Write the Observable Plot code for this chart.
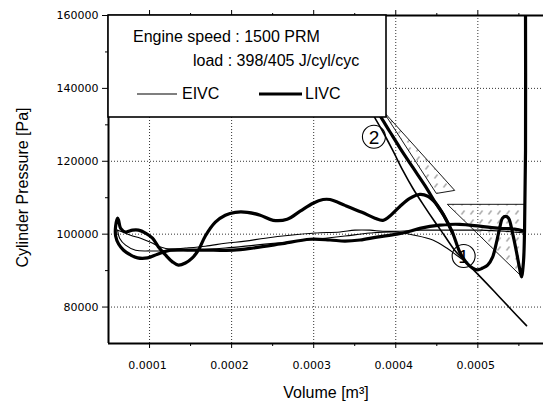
<!DOCTYPE html>
<html>
<head>
<meta charset="utf-8">
<script src="https://cdn.jsdelivr.net/npm/d3@7"></script>
<script src="https://cdn.jsdelivr.net/npm/@observablehq/plot@0.6"></script>
<style>
html,body{margin:0;padding:0;background:#fff;}
#chart{width:543px;height:401px;overflow:hidden;}
</style>
</head>
<body>
<div id="chart"></div>
<script>
// ---- axes / ticks ----
const xDomain = [0.00005, 0.00058];
const yDomain = [70000, 160000];
const xTicks = [0.0001, 0.0002, 0.0003, 0.0004, 0.0005];
const xTickLabels = ["0.0001", "0.0002", "0.0003", "0.0004", "0.0005"];
const xMinorTicks = [0.00015, 0.00025, 0.00035, 0.00045, 0.00055];
const yTicks = [80000, 100000, 120000, 140000, 160000];
const yTickLabels = ["80000", "100000", "120000", "140000", "160000"];
const yMinorTicks = [90000, 110000, 130000, 150000];
const yGrid = [80000, 100000, 120000, 140000];
const xLabel = "Volume [m³]";
const yLabel = "Cylinder Pressure [Pa]";
const legendText = ["Engine speed : 1500 PRM", "load : 398/405 J/cyl/cyc"];
const seriesNames = ["EIVC", "LIVC"];

// ---- LIVC (thick): blowdown, exhaust and intake strokes ----
const livcMainV = [5.58e-4, 5.581e-4, 5.569e-4, 5.556e-4, 5.532e-4, 5.508e-4, 5.471e-4, 5.423e-4, 5.374e-4, 5.338e-4,
  5.301e-4, 5.265e-4, 5.228e-4, 5.180e-4, 5.119e-4, 5.058e-4, 4.998e-4, 4.937e-4, 4.864e-4, 4.779e-4,
  4.694e-4, 4.584e-4, 4.487e-4, 4.390e-4, 4.293e-4, 4.171e-4, 4.050e-4, 3.940e-4, 3.843e-4, 3.746e-4,
  3.588e-4, 3.381e-4, 3.199e-4, 3.114e-4, 2.993e-4, 2.835e-4, 2.677e-4, 2.507e-4, 2.349e-4, 2.191e-4,
  2.045e-4, 1.923e-4, 1.802e-4, 1.680e-4, 1.595e-4, 1.522e-4, 1.437e-4, 1.352e-4, 1.279e-4, 1.194e-4,
  1.109e-4, 1.036e-4, 0.951e-4, 0.866e-4, 0.793e-4, 0.708e-4, 0.648e-4, 0.623e-4, 0.611e-4, 0.587e-4,
  0.587e-4, 0.623e-4, 0.684e-4, 0.769e-4, 0.854e-4, 0.976e-4, 1.097e-4, 1.255e-4, 1.498e-4, 1.778e-4,
  2.021e-4, 2.264e-4, 2.592e-4, 2.956e-4, 3.199e-4, 3.381e-4, 3.564e-4, 3.770e-4, 4.013e-4, 4.171e-4,
  4.293e-4, 4.536e-4, 4.779e-4, 5.022e-4, 5.265e-4, 5.447e-4, 5.569e-4];
const livcMainP = [170000, 122900, 101100, 92400, 88300, 90700, 95100, 100300, 104400, 104900,
  104400, 101600, 97800, 93700, 91500, 90700, 90200, 90700, 92100, 95100,
  100300, 105200, 108500, 110400, 110900, 109800, 107600, 105200, 103800, 104400,
  106000, 107900, 109500, 109500, 108500, 106300, 104100, 103800, 105200, 106000,
  106000, 105200, 103300, 99500, 95600, 93500, 92100, 91500, 92400, 94300,
  96500, 98900, 100300, 101100, 101100, 100600, 101600, 103800, 104400, 102200,
  99500, 97300, 95600, 94300, 93500, 93500, 94500, 95600, 95600, 95600,
  95600, 96200, 97300, 98600, 98400, 98100, 98400, 99200, 100000, 100800,
  101600, 102500, 102700, 102200, 101600, 101400, 100800];
// LIVC compression after late intake valve closing
const livcCompV = [4.694e-4, 4.584e-4, 4.487e-4, 4.354e-4, 4.208e-4, 4.050e-4, 3.928e-4, 3.807e-4, 3.685e-4];
const livcCompP = [100300, 105200, 108500, 113400, 118300, 123700, 128100, 132500, 136600];

// ---- EIVC (thin) ----
const eivcExhV = [5.569e-4, 5.326e-4, 5.022e-4, 4.779e-4, 4.536e-4, 4.293e-4, 4.050e-4, 3.843e-4, 3.685e-4, 3.503e-4,
  3.321e-4, 3.017e-4, 2.713e-4, 2.409e-4, 2.166e-4, 1.923e-4, 1.680e-4, 1.437e-4, 1.255e-4, 1.134e-4,
  1.012e-4, 0.891e-4, 0.769e-4, 0.672e-4, 0.611e-4];
const eivcExhP = [100300, 100800, 101100, 101100, 101100, 101100, 100800, 100800, 101100, 101100,
  100600, 100300, 99700, 98900, 98100, 97500, 96700, 96200, 95900, 96500,
  97800, 98900, 99700, 100600, 101100];
const eivcIntV = [0.611e-4, 0.635e-4, 0.708e-4, 0.830e-4, 1.012e-4, 1.255e-4, 1.559e-4, 1.923e-4, 2.288e-4, 2.653e-4,
  3.017e-4, 3.381e-4, 3.685e-4, 3.989e-4, 4.232e-4, 4.451e-4, 4.621e-4, 4.754e-4, 4.852e-4];
const eivcIntP = [101100, 98900, 97000, 95600, 95400, 95400, 95600, 96200, 97000, 97800,
  98600, 99500, 100300, 100600, 99700, 98400, 96200, 94000, 92400];
// expansion after early closing and re-compression
const eivcExpV = [5.593e-4, 5.386e-4, 5.204e-4, 5.022e-4, 4.852e-4, 4.718e-4, 4.597e-4, 4.463e-4, 4.341e-4, 4.208e-4,
  4.086e-4, 3.965e-4, 3.843e-4, 3.746e-4, 3.661e-4];
const eivcExpP = [74900, 79800, 84200, 88500, 92400, 95600, 99500, 103800, 107900, 112600,
  117500, 122900, 128100, 131900, 135200];

// ---- annotations ----
const triAV = [3.843e-4, 4.718e-4, 4.499e-4];
const triAP = [133840, 112010, 111190];
const triBV = [4.633e-4, 5.581e-4, 5.544e-4];
const triBP = [108190, 108190, 88270];
const markV = [3.734e-4, 4.827e-4];
const markP = [126740, 94000];
const markLabel = ["2", "1"];

const rows = (V, P, seg) => V.map((v, i) => ({V: v, P: P[i], seg}));
const livcRows = [...rows(livcMainV, livcMainP, "main"), ...rows(livcCompV, livcCompP, "comp")];
const eivcRows = [...rows(eivcExhV, eivcExhP, "exh"), ...rows(eivcIntV, eivcIntP, "int")];
const eivcExpRows = rows(eivcExpV, eivcExpP, "exp");
const triRows = [...rows(triAV, triAP, "A"), ...rows(triBV, triBP, "B")];
const markRows = markV.map((v, i) => ({V: v, P: markP[i], label: markLabel[i]}));
const xLabelRows = xTicks.map((v, i) => ({V: v, label: xTickLabels[i]}));

const grid = {stroke: "#333", strokeDasharray: "1,2", strokeWidth: 1};
const lineBase = {x: "V", y: "P", z: "seg", curve: "catmull-rom", clip: true, stroke: "black",
  strokeLinejoin: "round", strokeLinecap: "round"};
const yFmt = d => yTickLabels[yTicks.indexOf(d)];
const none = () => "";

const plot = Plot.plot({
  width: 543, height: 401,
  marginLeft: 108, marginRight: 0, marginTop: 15, marginBottom: 58,
  x: {domain: xDomain}, y: {domain: yDomain},
  style: {fontFamily: "DejaVu Sans", fontSize: "11px", color: "black", background: "white"},
  marks: [
    Plot.ruleX(xTicks, grid),
    Plot.ruleY(yGrid, grid),
    Plot.line(triRows, {x: "V", y: "P", z: "seg", curve: "linear-closed", fill: "url(#hatch)", stroke: "black", strokeWidth: 0.9, clip: true}),
    Plot.line(eivcExpRows, {...lineBase, strokeWidth: 1.6}),
    Plot.line(eivcRows, {...lineBase, strokeWidth: 1.1}),
    Plot.line(livcRows, {...lineBase, strokeWidth: 3.2}),
    Plot.dot(markRows, {x: "V", y: "P", r: 11.5, stroke: "black", strokeWidth: 1.1, fill: "none"}),
    Plot.text(markRows, {x: "V", y: "P", text: "label", fontSize: 19, fontFamily: "Liberation Sans", dy: 1}),
    Plot.ruleX([xDomain[0]], {stroke: "black", strokeWidth: 2}),
    Plot.ruleY([yDomain[0]], {stroke: "black", strokeWidth: 2}),
    Plot.ruleY([yDomain[1]], {stroke: "black", strokeWidth: 2}),
    Plot.axisY(yTicks, {anchor: "left", tickSize: 6, tickPadding: 4, tickFormat: yFmt, label: null}),
    Plot.axisY(yMinorTicks, {anchor: "left", tickSize: 3, tickFormat: none, label: null}),
    Plot.axisX(xTicks, {anchor: "bottom", tickSize: 5, tickFormat: none, label: null}),
    Plot.axisX(xMinorTicks, {anchor: "bottom", tickSize: 3, tickFormat: none, label: null}),
    Plot.axisX(xTicks, {anchor: "top", tickSize: 6, tickFormat: none, label: null}),
    Plot.axisX(xMinorTicks, {anchor: "top", tickSize: 3, tickFormat: none, label: null}),
    Plot.text(xLabelRows, {x: "V", text: "label", frameAnchor: "bottom", lineAnchor: "middle", textAnchor: "middle", dy: 22, dx: -2}),
    Plot.text([xLabel], {frameAnchor: "bottom", lineAnchor: "middle", textAnchor: "middle", dy: 49, fontSize: 16, fontFamily: "Liberation Sans"}),
    Plot.text([yLabel], {frameAnchor: "left", lineAnchor: "middle", textAnchor: "middle", rotate: -90, dx: -86, dy: 8, fontSize: 16, fontFamily: "Liberation Sans"})
  ]
});

// hatch pattern for the annotated areas
const sel = d3.select(plot);
const pat = sel.insert("defs", ":first-child").append("pattern")
  .attr("id", "hatch").attr("patternUnits", "userSpaceOnUse").attr("width", 9).attr("height", 9);
pat.append("path").attr("d", "M2,7L5,3").attr("stroke", "#444").attr("stroke-width", 0.9);

// legend box (opaque, inside the frame's upper-left corner)
const lg = sel.append("g").attr("font-family", '"Liberation Sans", Arial, sans-serif')
  .attr("fill", "black").attr("text-anchor", "start");
lg.append("rect").attr("x", 108).attr("y", 15).attr("width", 278).attr("height", 102)
  .attr("fill", "white").attr("stroke", "black").attr("stroke-width", 1.6);
lg.append("text").attr("x", 133).attr("y", 42).attr("font-size", 16).text(legendText[0]);
lg.append("text").attr("x", 193).attr("y", 66).attr("font-size", 16).text(legendText[1]);
lg.append("line").attr("x1", 137).attr("x2", 177).attr("y1", 94).attr("y2", 94).attr("stroke", "black").attr("stroke-width", 1.1);
lg.append("text").attr("x", 182).attr("y", 99).attr("font-size", 16).text(seriesNames[0]);
lg.append("line").attr("x1", 259).attr("x2", 302).attr("y1", 94).attr("y2", 94).attr("stroke", "black").attr("stroke-width", 3.2);
lg.append("text").attr("x", 305).attr("y", 99).attr("font-size", 16).text(seriesNames[1]);

document.getElementById("chart").appendChild(plot);
</script>
</body>
</html>
